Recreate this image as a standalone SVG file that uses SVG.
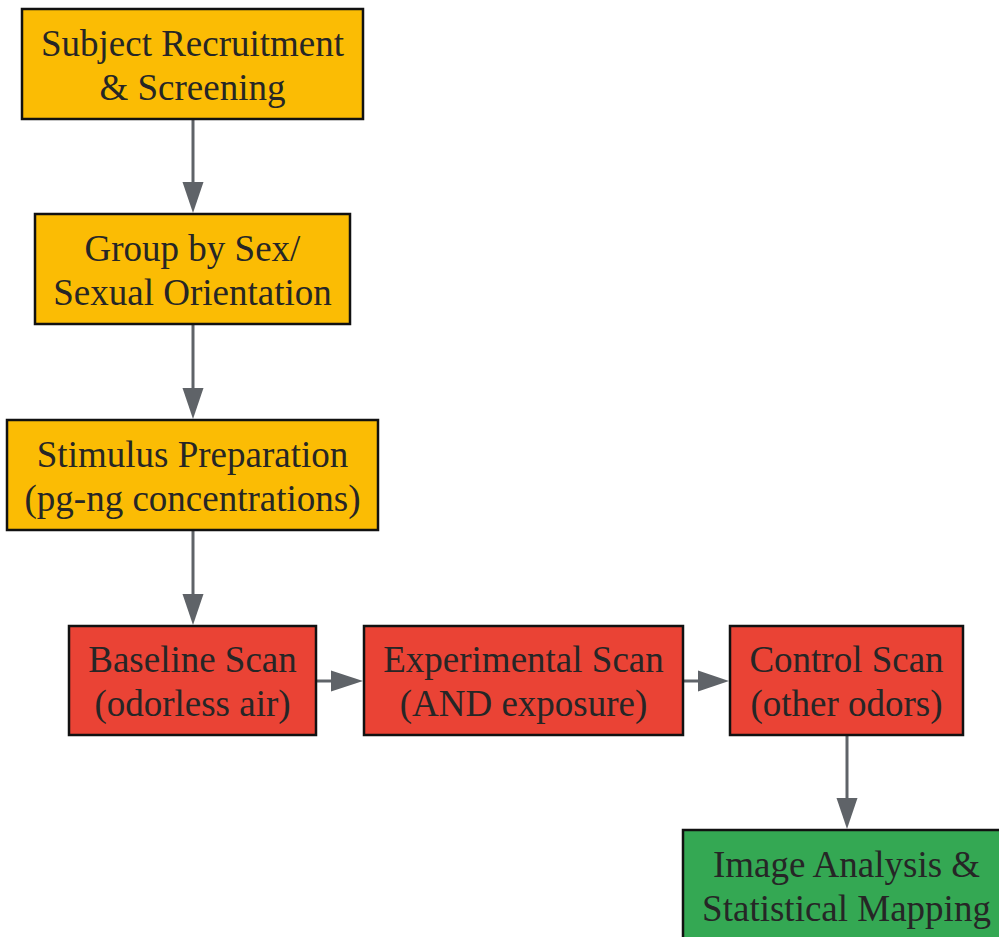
<svg xmlns="http://www.w3.org/2000/svg" width="999" height="937" viewBox="0 0 999 937">
<defs>
<style>
.box{stroke:#111;stroke-width:2.5}
.o{fill:#FBBC04}.r{fill:#EA4335}.g{fill:#34A853}
text{font-family:"Liberation Serif","Times New Roman",serif;font-size:37px;fill:#262626;text-anchor:middle}
.e{stroke:#5F6368;stroke-width:3;fill:none}
</style>
</defs>
<rect width="999" height="937" fill="#fff"/>
<g id="edges">
<line class="e" x1="193" y1="119" x2="193" y2="186"/><path d="M182.5,182L203.5,182L193,213z" fill="#5F6368"/>
<line class="e" x1="193" y1="324" x2="193" y2="392"/><path d="M182.5,388L203.5,388L193,419z" fill="#5F6368"/>
<line class="e" x1="193" y1="530" x2="193" y2="598"/><path d="M182.5,594L203.5,594L193,625z" fill="#5F6368"/>
<line class="e" x1="316" y1="681" x2="335" y2="681"/><path d="M331,670.5L331,691.5L363,681z" fill="#5F6368"/>
<line class="e" x1="683" y1="681" x2="702" y2="681"/><path d="M698,670.5L698,691.5L729,681z" fill="#5F6368"/>
<line class="e" x1="847" y1="735" x2="847" y2="802"/><path d="M836.5,798L857.5,798L847,829z" fill="#5F6368"/>
</g>
<g id="n1"><rect class="box o" x="22" y="9" width="341" height="110"/><text x="192.5" y="56">Subject Recruitment</text><text x="192.5" y="100">&amp; Screening</text></g>
<g id="n2"><rect class="box o" x="35" y="214" width="315" height="110"/><text x="192.5" y="261">Group by Sex/</text><text x="192.5" y="305">Sexual Orientation</text></g>
<g id="n3"><rect class="box o" x="7" y="420" width="371" height="110"/><text x="192.5" y="467">Stimulus Preparation</text><text x="192.5" y="511">(pg-ng concentrations)</text></g>
<g id="n4"><rect class="box r" x="69" y="626" width="247" height="109"/><text x="192.5" y="672">Baseline Scan</text><text x="192.5" y="716">(odorless air)</text></g>
<g id="n5"><rect class="box r" x="364" y="626" width="319" height="109"/><text x="523.5" y="672">Experimental Scan</text><text x="523.5" y="716">(AND exposure)</text></g>
<g id="n6"><rect class="box r" x="730" y="626" width="233" height="109"/><text x="846.5" y="672">Control Scan</text><text x="846.5" y="716">(other odors)</text></g>
<g id="n7"><rect class="box g" x="683" y="830" width="330" height="120"/><text x="846.5" y="877">Image Analysis &amp;</text><text x="846.5" y="921">Statistical Mapping</text></g>
</svg>
